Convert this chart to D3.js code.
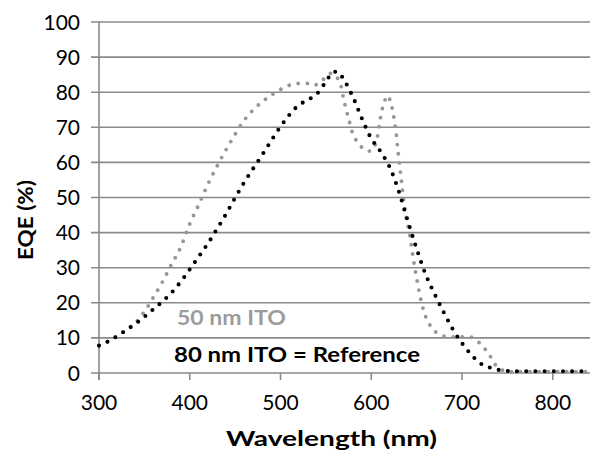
<!DOCTYPE html>
<html>
<head>
<meta charset="utf-8">
<script src="https://cdn.jsdelivr.net/npm/d3@7"></script>
<style>
  html, body { margin: 0; padding: 0; background: #fff; }
  svg { display: block; font-family: Lato, 'Open Sans', sans-serif; }
</style>
</head>
<body>
<svg id="chart" width="590" height="452"></svg>
<script>
// 50 nm ITO (grey dotted)
const wl50 = [300, 310, 320, 330, 340, 350, 360, 370, 380, 390, 400, 410, 420, 430, 440, 450, 460, 470, 480, 490,
  500, 510, 520, 530, 537, 545, 552, 558, 565, 570, 575, 580, 587, 595, 601, 606, 610, 614, 618, 622, 626, 630,
  634, 638, 642, 646, 650, 655, 660, 665, 670, 680, 690, 700, 710, 720, 730, 740, 750, 760, 780, 800, 820, 840];
const eqe50 = [7.8, 9.0, 10.5, 12.3, 14.3, 17.5, 21.6, 26.0, 31.0, 35.8, 42.5, 48.0, 53.8, 58.9, 63.6, 68.0, 72.0, 75.0, 77.3, 79.2,
  80.8, 82.0, 82.5, 82.5, 82.0, 83.0, 85.0, 85.3, 83.0, 77.5, 72.5, 68.0, 65.0, 63.3, 63.5, 66.5, 72.5, 77.0, 79.0, 76.5, 71.0, 62.0,
  53.0, 45.0, 40.0, 33.0, 27.0, 20.5, 16.0, 13.5, 11.9, 10.5, 10.3, 10.3, 10.2, 8.4, 5.2, 1.4, 0.5, 0.4, 0.4, 0.4, 0.4, 0.4];

// 80 nm ITO = Reference (black dotted)
const wl80 = [300, 310, 320, 330, 340, 350, 360, 370, 380, 390, 400, 410, 420, 430, 440, 450, 460, 470, 480, 490,
  500, 510, 520, 530, 540, 550, 557, 563, 570, 580, 590, 600, 610, 620, 630, 640, 650, 660, 670, 680, 690,
  700, 710, 720, 730, 740, 750, 760, 780, 800, 820, 840];
const eqe80 = [7.8, 9.0, 10.5, 12.2, 14.0, 16.0, 18.2, 20.4, 22.9, 26.0, 29.5, 33.2, 36.9, 41.0, 45.3, 49.9, 54.3, 58.3, 62.2, 66.3,
  70.2, 73.6, 76.3, 77.8, 79.5, 83.0, 85.5, 85.8, 83.5, 78.5, 72.3, 66.8, 63.2, 58.8, 52.0, 43.5, 35.4, 28.0, 22.4, 17.2, 12.4,
  8.5, 5.3, 2.8, 1.6, 0.9, 0.6, 0.5, 0.5, 0.5, 0.5, 0.5];

const xTicks = [300, 400, 500, 600, 700, 800];
const yTicks = [0, 10, 20, 30, 40, 50, 60, 70, 80, 90, 100];

const svg = d3.select('#chart');
const plotLeft = 99, plotRight = 590, plotTop = 22, plotBottom = 373;

const x = d3.scaleLinear().domain([300, 841]).range([plotLeft, plotRight]);
const y = d3.scaleLinear().domain([0, 100]).range([plotBottom, plotTop]);

const gridColor = '#8a8a8a';

// horizontal gridlines (with the little outside tick on the left)
svg.append('g')
  .selectAll('line')
  .data(yTicks)
  .enter().append('line')
  .attr('x1', plotLeft - 8)
  .attr('x2', plotRight)
  .attr('y1', d => y(d))
  .attr('y2', d => y(d))
  .attr('stroke', gridColor)
  .attr('stroke-width', 1.6);

// y axis line
svg.append('line')
  .attr('x1', plotLeft).attr('x2', plotLeft)
  .attr('y1', plotTop).attr('y2', plotBottom + 7)
  .attr('stroke', gridColor)
  .attr('stroke-width', 1.6);

// x tick marks
svg.append('g')
  .selectAll('line')
  .data(xTicks)
  .enter().append('line')
  .attr('x1', d => x(d)).attr('x2', d => x(d))
  .attr('y1', plotBottom).attr('y2', plotBottom + 7)
  .attr('stroke', gridColor)
  .attr('stroke-width', 1.6);

// tick labels
svg.append('g')
  .selectAll('text')
  .data(yTicks)
  .enter().append('text')
  .attr('x', 80)
  .attr('y', d => y(d) + 7.5)
  .attr('text-anchor', 'end')
  .attr('font-size', 21)
  .attr('fill', '#000')
  .text(d => d);

svg.append('g')
  .selectAll('text')
  .data(xTicks)
  .enter().append('text')
  .attr('x', d => x(d))
  .attr('y', 410)
  .attr('text-anchor', 'middle')
  .attr('font-size', 21)
  .attr('fill', '#000')
  .text(d => d);

// curves as round-dot lines
const line = d3.line()
  .x(d => x(d[0]))
  .y(d => y(d[1]))
  .curve(d3.curveCatmullRom.alpha(0.5));

const drawSeries = (wl, vals, color, width) => {
  svg.append('path')
    .datum(wl.map((w, i) => [w, vals[i]]))
    .attr('d', line)
    .attr('fill', 'none')
    .attr('stroke', color)
    .attr('stroke-width', width)
    .attr('stroke-linecap', 'round')
    .attr('stroke-dasharray', '0 9.2');
};
drawSeries(wl50, eqe50, '#979797', 3.9);
drawSeries(wl80, eqe80, '#000', 4.1);

// in-plot labels
svg.append('text')
  .attr('x', 177).attr('y', 325)
  .attr('font-size', 21).attr('font-weight', 'bold')
  .attr('fill', '#9c9c9c')
  .attr('textLength', 109).attr('lengthAdjust', 'spacingAndGlyphs')
  .text('50 nm ITO');
svg.append('text')
  .attr('x', 174).attr('y', 362)
  .attr('font-size', 21).attr('font-weight', 'bold')
  .attr('fill', '#000')
  .attr('textLength', 246).attr('lengthAdjust', 'spacingAndGlyphs')
  .text('80 nm ITO = Reference');

// axis titles
svg.append('text')
  .attr('x', 226).attr('y', 446)
  .attr('font-size', 21).attr('font-weight', 'bold')
  .attr('textLength', 211).attr('lengthAdjust', 'spacingAndGlyphs')
  .text('Wavelength (nm)');
svg.append('text')
  .attr('transform', 'translate(33,260) rotate(-90)')
  .attr('font-size', 21).attr('font-weight', 'bold')
  .attr('textLength', 80).attr('lengthAdjust', 'spacingAndGlyphs')
  .text('EQE (%)');
</script>
</body>
</html>
